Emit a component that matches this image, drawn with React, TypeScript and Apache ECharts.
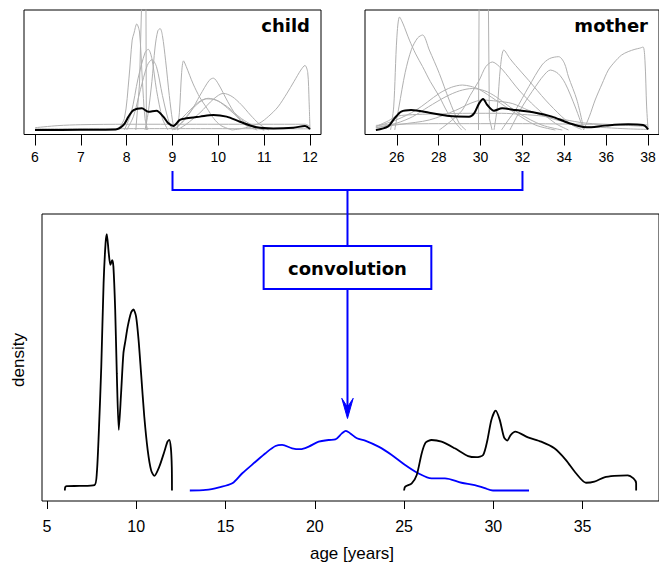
import React, { useEffect, useRef } from "react";
import * as echarts from "echarts";

// ---------- top-left panel: child ----------
const childTicks = [6, 7, 8, 9, 10, 11, 12];
const childMean: number[][] = [[6,0],[7,0.2],[7.76,0.5],[7.93,4.3],[8.04,11.6],[8.15,17.3],[8.33,18.8],[8.47,15.9],[8.65,16.8],[8.8,11.6],[8.91,5.8],[9.02,3.5],[9.16,8.7],[9.31,10.1],[9.6,11.6],[9.89,13],[10.18,11.6],[10.47,7.2],[10.84,2.3],[11.2,1.3],[11.64,2],[11.89,3.5],[12,0.8]];
const childG1: number[][] = [[6,2],[6.5,3.8],[7,4.6],[8,5],[10,5],[11.9,5],[12,3]];
const childG2: number[][] = [[6,1],[9,1.2],[12,1]];
const childG3: number[][] = [[7.8,0],[7.95,10],[8.05,45],[8.12,78],[8.16,84],[8.22,92],[8.28,85],[8.34,45],[8.4,10],[8.46,0]];
const childG4: number[][] = [[8.2,0],[8.28,40],[8.33,115],[8.42,115],[8.43,0]];
const childG5: number[][] = [[7.95,0],[8.1,15],[8.25,45],[8.4,67],[8.47,70],[8.55,62],[8.65,35],[8.78,10],[8.9,0]];
const childG6: number[][] = [[8.0,0],[8.15,12],[8.3,35],[8.45,56],[8.55,61],[8.65,55],[8.78,30],[8.9,10],[9.0,0]];
const childG7: number[][] = [[8.4,0],[8.47,15],[8.55,42],[8.62,72],[8.68,86],[8.73,88],[8.78,82],[8.85,60],[8.93,30],[9.0,8],[9.05,0]];
const childG8: number[][] = [[9.1,0],[9.15,15],[9.2,50],[9.24,60],[9.3,55],[9.45,40],[9.6,28],[9.75,19],[9.9,10],[10.05,4],[10.3,0]];
const childG9: number[][] = [[9.0,0],[9.2,6],[9.4,16],[9.6,30],[9.8,43],[9.89,45],[10.0,40],[10.2,25],[10.4,12],[10.6,4],[10.85,0]];
const childG10: number[][] = [[9.0,2],[9.2,10],[9.4,18],[9.6,25],[9.78,27.5],[10.0,25],[10.2,19],[10.4,12],[10.6,6],[10.8,2],[11,0]];
const childG11: number[][] = [[9.05,0],[9.25,9],[9.5,21],[9.75,27],[9.95,26],[10.2,20],[10.5,10],[10.8,3],[11,0]];
const childG12: number[][] = [[9.1,0],[9.3,5],[9.6,15],[9.9,27],[10.11,31.8],[10.3,29],[10.5,22],[10.7,13],[10.9,5],[11.1,0]];
const childG13: number[][] = [[10.3,0],[10.6,2],[10.9,6],[11.1,12],[11.3,20],[11.5,32],[11.65,42],[11.8,52],[11.89,56],[11.95,50],[11.98,25],[12,0]];

// ---------- top-right panel: mother ----------
const motherTicks = [26, 28, 30, 32, 34, 36, 38];
const motherMean: number[][] = [[25,0],[25.57,2.9],[25.89,10.1],[26.21,15.9],[26.68,17.3],[27.55,15],[28.5,12.1],[29.45,11.6],[29.69,14.5],[29.93,23.1],[30.12,26.9],[30.32,21.7],[30.64,16.8],[31.03,18.8],[31.67,17.3],[32.62,15],[33.41,11.6],[34.04,7.2],[34.68,3.5],[35.07,2.3],[35.94,3.8],[37.05,4.9],[37.76,4.3],[38,0.6]];
const motherM1: number[][] = [[25.7,0],[25.85,20],[26.0,80],[26.13,98],[26.3,92],[26.6,78],[26.9,66],[27.23,55],[27.6,42],[28.03,29],[28.4,16],[28.82,5.8],[29.1,0]];
const motherM2: number[][] = [[25.9,0],[26.1,20],[26.4,50],[26.7,70],[27.0,80],[27.23,82.4],[27.55,69.4],[28.03,49],[28.5,26],[28.98,5.8],[29.3,0]];
const motherM3: number[][] = [[29.9,0],[29.93,115],[30.37,115],[30.42,10],[30.55,0]];
const motherM4: number[][] = [[30.64,0],[30.8,20],[30.95,55],[31.11,69.4],[31.4,62],[31.67,56],[32.3,43],[33.1,26],[33.88,11.6],[34.4,4],[34.83,0.5]];
const motherM5: number[][] = [[28.03,0],[28.6,8],[29.13,17.3],[29.5,30],[29.93,43],[30.25,55],[30.56,59],[30.9,55],[31.2,49],[31.83,34.7],[32.62,20],[33.57,5.8],[34.2,0]];
const motherM6: number[][] = [[31.0,0],[31.3,8],[31.67,17.3],[32.3,37.6],[32.93,56.4],[33.3,62],[33.73,63.6],[34.0,58],[34.2,46],[34.6,26],[34.92,1.5]];
const motherM7: number[][] = [[31.4,0],[31.98,20],[32.62,37.6],[33.0,47],[33.33,52],[33.7,49],[34.04,40.5],[34.52,20],[34.92,0]];
const motherM8: number[][] = [[34.92,0],[35.2,12],[35.47,26],[35.8,40],[36.1,52],[36.4,59],[36.73,65],[37.05,68],[37.37,70],[37.6,71],[37.76,72],[37.85,60],[37.93,20],[38,0]];
const motherM9: number[][] = [[25,3],[25.97,8.7],[26.92,17.3],[28.03,31.8],[28.6,37],[29.13,39],[29.5,38],[29.93,35.3],[30.72,26],[31.67,14.5],[32.62,4.3],[33.57,0]];
const motherM10: number[][] = [[25,2],[26,6],[26.76,11.6],[27.5,20],[28.35,29],[29,34],[29.61,36],[30.2,34],[30.72,29],[31.83,14.5],[32.93,4.3],[33.9,0]];
const motherM11: number[][] = [[25,2],[26.2,5],[27.55,8.7],[28.8,17],[29.5,23],[30.08,26],[30.8,25],[31.51,23],[32.3,17],[33.1,11.6],[34.0,7],[34.83,3.5],[36,2],[37.05,1],[38,0.5]];
const motherM12: number[][] = [[25,3],[25.6,8],[26,12],[27,13.5],[28,14],[29.5,14.5],[31,14.5],[32,13.5],[33,12],[34,9],[35,6],[36.5,4.5],[38,3]];
const motherM13: number[][] = [[25,4],[26,5],[28,5.5],[32,5.5],[35,5],[38,4.5]];

// ---------- bottom panel ----------
const ageTicks = [5, 10, 15, 20, 25, 30, 35];
const childDensity: number[][] = [[6,0],[6.02,1.2],[6.1,1.5],[6.82,1.6],[7.66,1.9],[7.79,6],[7.9,19.9],[8.04,43.1],[8.17,72.2],[8.28,86.1],[8.35,89.3],[8.46,82.6],[8.55,78.6],[8.65,80.3],[8.72,78],[8.82,62.9],[8.91,40.8],[9.02,21.1],[9.15,33.9],[9.28,47.8],[9.4,52.5],[9.52,57.1],[9.71,62],[9.84,63.1],[9.99,60.6],[10.13,52.4],[10.27,40.8],[10.45,25.7],[10.64,14.1],[10.83,7.1],[11.01,5.1],[11.29,8.3],[11.57,13.5],[11.75,17],[11.85,17.6],[11.94,14.7],[11.99,8.3],[12,0]];
const convDensity: number[][] = [[13,0],[13.9,0.2],[14.64,1.1],[15.38,2.5],[15.94,6],[16.68,10],[17.24,13],[17.8,15.5],[18.17,15.9],[18.73,14.7],[19.2,14.4],[19.66,15.3],[20.22,17],[20.78,17.6],[21.15,17.8],[21.52,19.9],[21.74,20.8],[21.99,19.9],[22.36,18.2],[22.82,17.4],[23.57,15.3],[24.31,12.4],[25.06,8.9],[25.8,6],[26.54,4.2],[27.29,4.2],[28.22,2.7],[28.96,1.9],[29.52,0.8],[29.98,0],[32,0]];
const motherDensity: number[][] = [[25,0],[25.06,1.3],[25.43,2.5],[25.71,5.4],[25.99,13],[26.21,16.7],[26.54,17.6],[27.1,17],[27.84,14.7],[28.59,12],[29.05,11.6],[29.43,12.4],[29.67,17.6],[29.89,24.6],[30.13,27.8],[30.36,24.6],[30.6,18.5],[30.78,17.4],[30.97,19.3],[31.23,20.5],[31.94,18.5],[32.68,17],[33.42,14.7],[34.07,10.6],[34.63,6],[35.19,2.7],[35.66,3.1],[36.22,4.6],[36.77,5.1],[37.52,5.3],[37.85,4.2],[38.0,2.5],[38,0]];

const childGray = [childG1, childG2, childG3, childG5, childG6, childG7, childG8, childG9, childG10, childG11, childG12, childG13];
const childSpikes = [childG4];
const motherGray = [motherM1, motherM2, motherM4, motherM5, motherM6, motherM7, motherM8, motherM9, motherM10, motherM11, motherM12, motherM13];
const motherSpikes = [motherM3];

const BLUE = "#0000ff";
const GRAY = "#b0b0b0";
const TICK_FONT = "'Liberation Sans', Arial, Helvetica, sans-serif";
const BOLD_FONT = "'DejaVu Sans', Verdana, sans-serif";

export default function App() {
  const ref = useRef<HTMLDivElement>(null);
  useEffect(() => {
    const chart = echarts.init(ref.current!, null, { renderer: "svg" });
    const gridBase = { show: true, borderColor: "#000", borderWidth: 1, backgroundColor: "transparent", containLabel: false };
    const xAxisBase = (gi: number, min: number, max: number, ticks: number[], fontSize: number, tickLen: number, margin: number) => ({
      type: "value",
      gridIndex: gi,
      position: "bottom",
      min,
      max,
      axisLine: { show: false, onZero: false },
      splitLine: { show: false },
      axisTick: { show: true, inside: false, customValues: ticks, length: tickLen, lineStyle: { color: "#000", width: 1 } },
      axisLabel: { show: true, customValues: ticks, fontSize, color: "#000", fontFamily: TICK_FONT, margin },
    });
    const yAxisBase = (gi: number, min: number, max: number) => ({
      type: "value", gridIndex: gi, min, max, show: false,
    });
    const line = (data: number[][], idx: number, color: string, width: number, smooth: number | boolean, z = 2) => ({
      type: "line",
      xAxisIndex: idx,
      yAxisIndex: idx,
      data,
      symbol: "none",
      showSymbol: false,
      smooth,
      clip: true,
      silent: true,
      z,
      lineStyle: { color, width },
    });
    const series: any[] = [];
    childGray.forEach((d) => series.push(line(d, 0, GRAY, 1, 0.3)));
    childSpikes.forEach((d) => series.push(line(d, 0, GRAY, 1, false)));
    series.push(line(childMean, 0, "#000", 2, 0.3, 3));
    motherGray.forEach((d) => series.push(line(d, 1, GRAY, 1, 0.3)));
    motherSpikes.forEach((d) => series.push(line(d, 1, GRAY, 1, false)));
    series.push(line(motherMean, 1, "#000", 2, 0.3, 3));
    series.push(line(childDensity, 2, "#000", 1.8, 0.25, 3));
    series.push(line(convDensity, 2, BLUE, 1.8, 0.3, 3));
    series.push(line(motherDensity, 2, "#000", 1.8, 0.25, 3));

    chart.setOption({
      animation: false,
      grid: [
        { ...gridBase, left: 24, top: 10, width: 297, height: 124.5 },
        { ...gridBase, left: 365, top: 10, width: 296, height: 124.5 },
        { ...gridBase, left: 42, top: 214, width: 620, height: 287 },
      ],
      xAxis: [
        xAxisBase(0, 5.76, 12.24, childTicks, 14, 11, 15.5),
        xAxisBase(1, 24.48, 38.52, motherTicks, 14, 11, 15.5),
        xAxisBase(2, 4.72, 39.28, ageTicks, 16, 8, 17),
      ],
      yAxis: [yAxisBase(0, -3.9, 104.1), yAxisBase(1, -3.9, 104.1), yAxisBase(2, -3.66, 96.34)],
      series,
    });

    const x9 = chart.convertToPixel({ xAxisIndex: 0 } as any, 9) as number;
    const x32 = chart.convertToPixel({ xAxisIndex: 1 } as any, 32) as number;
    const xm = (x9 + x32) / 2;
    const blueStroke = { stroke: BLUE, lineWidth: 2, fill: null };
    chart.setOption({
      graphic: [
        { type: "text", right: 659 - 310, top: 16, style: { text: "child", font: `bold 18px ${BOLD_FONT}`, fill: "#000" } },
        { type: "text", right: 659 - 648, top: 16, style: { text: "mother", font: `bold 18px ${BOLD_FONT}`, fill: "#000" } },
        { type: "polyline", shape: { points: [[x9, 171], [x9, 190], [x32, 190], [x32, 171]] }, style: blueStroke, z: 10 },
        { type: "line", shape: { x1: xm, y1: 190, x2: xm, y2: 246 }, style: blueStroke, z: 10 },
        { type: "rect", shape: { x: xm - 83.85, y: 246, width: 167.7, height: 43 }, style: { fill: "#fff", stroke: BLUE, lineWidth: 2 }, z: 11 },
        { type: "text", x: xm, y: 268, z: 12, style: { text: "convolution", font: `bold 18px ${BOLD_FONT}`, fill: "#000", textAlign: "center", textVerticalAlign: "middle" } },
        { type: "line", shape: { x1: xm, y1: 289, x2: xm, y2: 408 }, style: blueStroke, z: 10 },
        { type: "polygon", shape: { points: [[xm, 418.5], [xm - 5.7, 398.3], [xm, 407], [xm + 5.7, 398.3]] }, style: { fill: BLUE, stroke: BLUE, lineWidth: 1 }, z: 10 },
        { type: "text", x: 352, y: 553, style: { text: "age [years]", font: `17px ${TICK_FONT}`, fill: "#000", textAlign: "center", textVerticalAlign: "middle" } },
        { type: "text", x: 18, y: 360, rotation: Math.PI / 2, style: { text: "density", font: `17px ${TICK_FONT}`, fill: "#000", textAlign: "center", textVerticalAlign: "middle" } },
      ],
    });
    return () => chart.dispose();
  }, []);
  return <div ref={ref} style={{ position: "fixed", left: 0, top: 0, width: 659, height: 568, background: "#fff" }} />;
}
